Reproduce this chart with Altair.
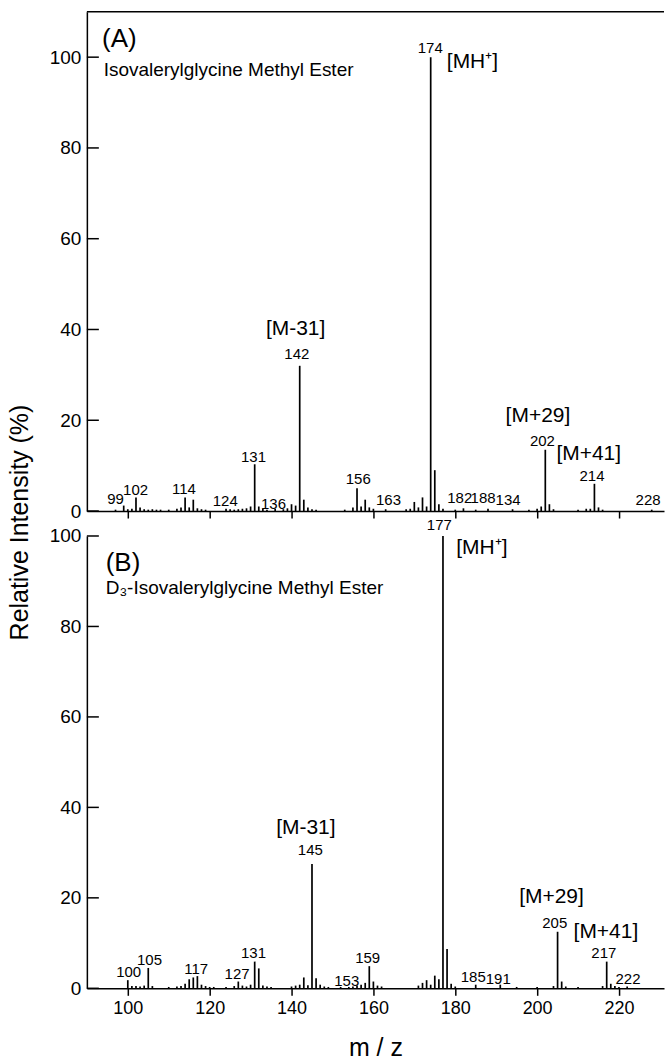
import altair as alt
import pandas as pd

FONT = "Liberation Sans"
X_DOMAIN = [90, 231]
W = 578
HA, HB = 500, 453
YA_MAX, YB_MAX = 110, 100
X_TICKS = [100, 120, 140, 160, 180, 200, 220]
Y_TICKS = [0, 20, 40, 60, 80, 100]

# ---- spectrum A : Isovalerylglycine methyl ester ----
a_mz = [97, 99, 100, 101, 102, 103, 104, 105, 106, 107, 108, 110, 112, 113, 114, 115, 116, 117, 118, 119,
        124, 125, 126, 127, 128, 129, 130, 131, 132, 133, 134, 136, 138, 139, 140, 141, 142, 143, 144, 145,
        146, 153, 155, 156, 157, 158, 159, 160, 163, 168, 169, 170, 171, 172, 173, 174, 175, 176, 177, 180,
        182, 185, 188, 194, 198, 200, 201, 202, 203, 204, 210, 212, 213, 214, 215, 216, 228]
a_int = [0.3, 1.2, 0.4, 0.5, 3.0, 0.8, 0.4, 0.3, 0.4, 0.3, 0.3, 0.3, 0.5, 0.8, 3.0, 0.8, 2.5, 0.6, 0.4, 0.3,
         0.5, 0.4, 0.3, 0.4, 0.5, 0.6, 1.0, 10.3, 1.0, 0.5, 0.3, 0.5, 0.4, 0.6, 1.5, 1.2, 32.0, 2.5, 0.8, 0.4,
         0.3, 0.3, 0.8, 5.0, 1.0, 2.5, 0.8, 0.5, 0.4, 0.4, 0.5, 2.0, 0.8, 3.0, 1.0, 100.0, 9.0, 1.5, 0.5, 0.3,
         0.6, 0.3, 0.5, 0.4, 0.3, 0.5, 1.0, 13.5, 1.5, 0.4, 0.3, 0.5, 0.5, 6.0, 0.8, 0.3, 0.3]

a_num_text = ["99", "102", "114", "124", "131", "136", "142", "156", "163", "174",
              "182", "188", "134", "202", "214", "228"]
a_num_mz = [97.0, 101.9, 113.7, 123.8, 130.7, 135.6, 141.3, 156.3, 163.7, 173.9,
            181.1, 186.8, 192.9, 201.3, 213.4, 227.1]
a_num_int = [2.6, 4.6, 4.8, 2.2, 11.9, 1.6, 34.5, 7.0, 2.4, 102.0,
             2.9, 2.9, 2.4, 15.4, 7.7, 2.4]

a_ann_text = ["[M-31]", "[MH\u207a]", "[M+29]", "[M+41]"]
a_ann_mz = [141.0, 184.2, 200.2, 212.6]
a_ann_int = [40.0, 99.0, 20.9, 12.6]

a_title_text = ["(A)", "Isovalerylglycine Methyl Ester"]
a_title_mz = [93.7, 94.1]
a_title_int = [104.0, 97.2]
a_title_size = [26, 19]

# ---- spectrum B : D3-isovalerylglycine methyl ester ----
b_mz = [100, 101, 102, 103, 104, 105, 106, 110, 112, 113, 114, 115, 116, 117, 118, 119, 120, 121, 124, 126,
        127, 128, 129, 130, 131, 132, 133, 134, 135, 140, 141, 142, 143, 144, 145, 146, 147, 148, 149, 152,
        154, 155, 156, 157, 158, 159, 160, 161, 162, 171, 172, 173, 174, 175, 176, 177, 178, 179, 180, 185,
        191, 195, 200, 204, 205, 206, 207, 210, 216, 217, 218, 219, 220, 222]
b_int = [1.8, 0.5, 0.5, 0.4, 0.6, 4.5, 0.5, 0.3, 0.4, 0.5, 1.0, 2.0, 2.4, 2.7, 0.8, 0.5, 0.3, 0.3, 0.3, 0.5,
         1.5, 0.6, 0.4, 0.8, 5.9, 4.4, 0.6, 0.4, 0.3, 0.4, 0.6, 0.8, 2.4, 0.7, 27.5, 2.2, 0.8, 0.4, 0.3, 0.3,
         0.3, 0.4, 0.6, 0.8, 1.2, 4.9, 1.5, 0.6, 0.4, 0.6, 1.2, 1.8, 0.8, 2.8, 2.0, 100.0, 8.7, 1.0, 0.4, 0.8,
         0.8, 0.3, 0.3, 0.5, 12.5, 1.5, 0.4, 0.3, 0.5, 5.9, 1.0, 0.5, 0.3, 0.4]

b_num_text = ["100", "105", "117", "127", "131", "145", "153", "159", "177",
              "185", "191", "205", "217", "222"]
b_num_mz = [100.2, 105.3, 116.7, 126.7, 130.7, 144.6, 153.5, 158.6, 176.1,
            184.4, 190.5, 204.3, 216.3, 222.2]
b_num_int = [3.6, 6.2, 4.3, 3.1, 7.8, 30.5, 1.6, 6.8, 102.5,
             2.4, 2.1, 14.4, 7.8, 2.0]

b_ann_text = ["[M-31]", "[MH\u207a]", "[M+29]", "[M+41]"]
b_ann_mz = [143.5, 186.5, 203.5, 216.8]
b_ann_int = [35.5, 97.4, 20.1, 12.4]

b_title_text = ["(B)", "D\u2083-Isovalerylglycine Methyl Ester"]
b_title_mz = [94.6, 94.6]
b_title_int = [94.0, 88.5]
b_title_size = [26, 19]


def panel(mz, inten, num_t, num_m, num_i, ann_t, ann_m, ann_i,
          tit_t, tit_m, tit_i, tit_s, ymax, height, bottom, top_frame, ytitle):
    xs = alt.Scale(domain=X_DOMAIN, nice=False, zero=False)
    ys = alt.Scale(domain=[0, ymax], nice=False)
    if bottom:
        xaxis = alt.Axis(values=X_TICKS, grid=False, ticks=True, tickSize=7, labels=True,
                         labelFontSize=18, labelPadding=4, title="m / z", titleFontSize=25,
                         titleFontWeight="normal", titlePadding=18)
    else:
        xaxis = alt.Axis(values=X_TICKS, grid=False, ticks=True, tickSize=7, labels=False, title=None)
    if ytitle:
        yaxis = alt.Axis(values=Y_TICKS, grid=False, ticks=False, labelFontSize=19, labelPadding=6,
                         title="Relative Intensity (%)", titleFontSize=25, titleFontWeight="normal",
                         titleAngle=270, titleX=-67, titleY=511, titleAlign="center",
                         titleBaseline="middle")
    else:
        yaxis = alt.Axis(values=Y_TICKS, grid=False, ticks=False, labelFontSize=19, labelPadding=6,
                         title=None)
    X = alt.X("mz:Q", scale=xs, axis=xaxis)
    Y = alt.Y("v:Q", scale=ys, axis=yaxis)

    peaks = pd.DataFrame({"mz": mz, "v": inten})
    bars = alt.Chart(peaks).mark_rule(color="black", strokeWidth=1.7).encode(
        x=X, y=Y, y2=alt.datum(0),
    )
    ticks = alt.Chart(pd.DataFrame({"v": Y_TICKS})).mark_rule(color="black", strokeWidth=1.5).encode(
        y=Y, x=alt.value(0), x2=alt.value(12),
    )
    nums = alt.Chart(pd.DataFrame({"mz": num_m, "v": num_i, "t": num_t})).mark_text(
        font=FONT, fontSize=15, color="black", align="center", baseline="middle").encode(
        x=X, y=Y, text="t:N")
    anns = alt.Chart(pd.DataFrame({"mz": ann_m, "v": ann_i, "t": ann_t})).mark_text(
        font=FONT, fontSize=21, color="black", align="center", baseline="middle").encode(
        x=X, y=Y, text="t:N")
    tits = alt.Chart(pd.DataFrame({"mz": tit_m, "v": tit_i, "t": tit_t, "s": tit_s})).mark_text(
        font=FONT, color="black", align="left", baseline="middle").encode(
        x=X, y=Y, text="t:N",
        size=alt.Size("s:Q", scale=None, legend=None))
    layers = [bars, ticks, nums, anns, tits]
    if top_frame:
        frame = alt.Chart(pd.DataFrame({"k": [0]})).mark_rule(color="black", strokeWidth=1.5).encode(
            y=alt.value(0), x=alt.value(0), x2=alt.value(W))
        layers.append(frame)
    return alt.layer(*layers).properties(width=W, height=height)


pa = panel(a_mz, a_int, a_num_text, a_num_mz, a_num_int, a_ann_text, a_ann_mz, a_ann_int,
           a_title_text, a_title_mz, a_title_int, a_title_size, YA_MAX, HA, False, True, True)
pb = panel(b_mz, b_int, b_num_text, b_num_mz, b_num_int, b_ann_text, b_ann_mz, b_ann_int,
           b_title_text, b_title_mz, b_title_int, b_title_size, YB_MAX, HB, True, False, False)

chart = alt.vconcat(pa, pb, spacing=25, bounds="flush").properties(
    padding={"left": 8, "top": 10, "right": 0, "bottom": 0},
    background="white",
).configure_view(stroke=None).configure_axis(
    domainColor="black", tickColor="black", labelColor="black", titleColor="black",
    domainWidth=1.5, tickWidth=1.5, labelFont=FONT, titleFont=FONT,
)

chart.save("out.html", embed_options={"renderer": "svg", "actions": False})
